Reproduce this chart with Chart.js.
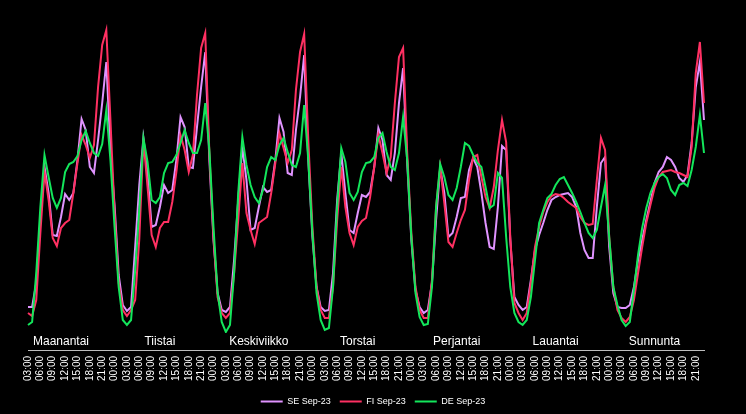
<!DOCTYPE html>
<html>
<head>
<meta charset="utf-8">
<script src="https://cdn.jsdelivr.net/npm/chart.js@4.4.1/dist/chart.umd.min.js"></script>
<style>
  html, body { margin: 0; padding: 0; background: #000; }
  #wrap { width: 746px; height: 414px; position: relative; }
</style>
</head>
<body>
<div id="wrap"><canvas id="chart"></canvas></div>
<script>
const days = ['Maanantai', 'Tiistai', 'Keskiviikko', 'Torstai', 'Perjantai', 'Lauantai', 'Sunnunta'];
const hourLabels = ['00:00', '01:00', '02:00', '03:00', '04:00', '05:00', '06:00', '07:00',
  '08:00', '09:00', '10:00', '11:00', '12:00', '13:00', '14:00', '15:00',
  '16:00', '17:00', '18:00', '19:00', '20:00', '21:00', '22:00', '23:00'];
const firstHour = 3; // the week starts Monday 03:00

// hourly profile, Monday 03:00 .. Sunday 23:00
const seSep23 = [
  33, 33, 57, 120, 173, 147, 105, 104, 123, 146, 140, 147, 180, 221, 210, 173, 167, 200, 237, 278, 190,
  135, 65, 35, 29, 33, 93, 155, 202, 167, 113, 115, 133, 155, 147, 150, 180, 223, 213, 173, 172, 213, 253, 288, 180,
  100, 47, 30, 28, 33, 80, 140, 193, 160, 110, 112, 133, 153, 148, 150, 180, 222, 208, 167, 165, 210, 243, 285, 180,
  103, 53, 33, 29, 30, 67, 140, 187, 147, 110, 107, 127, 145, 143, 148, 173, 212, 200, 165, 160, 187, 237, 272, 177,
  100, 50, 33, 27, 30, 57, 120, 172, 147, 103, 107, 123, 142, 143, 170, 182, 173, 147, 117, 93, 91, 133, 194, 190,
  100, 43, 35, 30, 33, 60, 90, 105, 117, 130, 140, 143, 145, 146, 147, 143, 133, 107, 90, 82, 82, 133, 177, 183,
  93, 47, 33, 32, 32, 35, 53, 80, 100, 120, 138, 157, 168, 173, 183, 180, 173, 162, 158, 165, 197, 253, 278, 220
];
const fiSep23 = [
  27, 24, 40, 107, 168, 140, 102, 94, 112, 117, 120, 147, 177, 205, 195, 182, 195, 253, 295, 310, 220,
  127, 57, 30, 24, 30, 40, 101, 200, 153, 105, 93, 112, 118, 118, 138, 168, 205, 190, 168, 185, 245, 292, 307, 187,
  103, 43, 27, 22, 27, 67, 120, 177, 127, 110, 96, 117, 120, 123, 147, 177, 207, 192, 177, 190, 250, 288, 306, 200,
  113, 53, 30, 22, 22, 53, 120, 173, 133, 107, 95, 113, 119, 122, 143, 173, 205, 187, 167, 183, 237, 283, 292, 187,
  107, 53, 30, 22, 22, 60, 133, 173, 137, 98, 93, 107, 120, 130, 160, 183, 185, 163, 143, 132, 153, 190, 220, 198,
  103, 37, 27, 20, 27, 57, 93, 113, 128, 138, 144, 146, 145, 142, 138, 135, 132, 123, 117, 115, 116, 160, 202, 190,
  103, 53, 30, 22, 18, 23, 40, 67, 93, 117, 135, 152, 163, 168, 169, 170, 168, 167, 165, 163, 193, 267, 298, 237
];
const deSep23 = [
  15, 18, 67, 133, 185, 163, 142, 132, 142, 168, 176, 178, 184, 200, 209, 197, 187, 184, 196, 230, 180,
  113, 53, 20, 15, 20, 70, 130, 202, 178, 140, 137, 143, 167, 177, 178, 185, 197, 210, 197, 187, 187, 200, 237, 190,
  113, 47, 18, 8, 15, 67, 147, 203, 175, 155, 143, 137, 150, 173, 183, 180, 195, 202, 188, 175, 173, 187, 235, 180,
  107, 47, 20, 10, 12, 53, 133, 192, 178, 147, 140, 148, 168, 177, 178, 183, 202, 207, 188, 173, 170, 187, 223, 180,
  103, 47, 23, 15, 16, 53, 133, 176, 163, 145, 140, 152, 173, 197, 194, 185, 177, 173, 153, 132, 135, 167, 162, 103,
  53, 27, 18, 15, 20, 43, 80, 117, 130, 142, 146, 155, 161, 163, 155, 147, 138, 128, 117, 107, 102, 110, 133, 155,
  103, 53, 35, 20, 14, 18, 50, 85, 112, 132, 147, 157, 163, 166, 162, 150, 145, 155, 157, 154, 170, 193, 225, 187
];

// one category per hour; remember which day / hour each one is
const catDay = [];
const catHour = [];
const categories = [];
days.forEach((d, di) => {
  hourLabels.forEach((h, hi) => {
    if (di === 0 && hi < firstHour) return;
    catDay.push(di);
    catHour.push(hi);
    categories.push(d + ' ' + h);
  });
});

const FONT = 'Liberation Sans, Arial, Helvetica, sans-serif';
const defaultLabels = Chart.defaults.plugins.legend.labels.generateLabels;

// invisible side axes, they only reserve the margins so the legend stays centred
const spacer = (pos, w) => ({
  position: pos,
  display: true,
  grid: { display: false, drawTicks: false },
  border: { display: false },
  ticks: { display: false },
  afterFit: s => { s.width = w; }
});

new Chart(document.getElementById('chart'), {
  type: 'line',
  data: {
    labels: categories,
    datasets: [
      { label: 'SE Sep-23', data: seSep23, borderColor: '#E093FF', backgroundColor: '#E093FF', order: 3 },
      { label: 'FI Sep-23', data: fiSep23, borderColor: '#FF3062', backgroundColor: '#FF3062', order: 2 },
      { label: 'DE Sep-23', data: deSep23, borderColor: '#13E65B', backgroundColor: '#13E65B', order: 1 }
    ]
  },
  options: {
    responsive: true,
    maintainAspectRatio: false,
    animation: false,
    layout: { padding: { left: 0, right: 0, top: 20, bottom: -2 } },
    elements: {
      point: { radius: 0, hoverRadius: 0 },
      line: { borderWidth: 2, tension: 0 }
    },
    plugins: {
      tooltip: { enabled: false },
      legend: {
        position: 'bottom',
        labels: {
          color: '#fff',
          font: { family: FONT, size: 9 },
          boxWidth: 22,
          boxHeight: 2,
          padding: 9,
          sort: (a, b) => a.datasetIndex - b.datasetIndex,
          generateLabels: c => defaultLabels(c).map(l => ({ ...l, lineWidth: 0 }))
        }
      }
    },
    scales: {
      x: {
        type: 'category',
        position: 'bottom',
        weight: 1,
        offset: false,
        grid: { display: false, drawTicks: false },
        border: { display: true, color: '#bdbdbd', width: 1 },
        ticks: {
          autoSkip: false,
          minRotation: 90,
          maxRotation: 90,
          padding: 6,
          color: '#fff',
          font: { family: FONT, size: 10 },
          callback: (v, i) => (catHour[i] % 3 === 0 ? hourLabels[catHour[i]] : '')
        },
        afterFit: s => { s.height = 38; }
      },
      days: {
        type: 'category',
        position: 'bottom',
        weight: 0,
        offset: false,
        grid: { display: false, drawTicks: false },
        border: { display: false },
        ticks: {
          autoSkip: false,
          minRotation: 0,
          maxRotation: 0,
          padding: 1,
          color: '#fff',
          font: { family: FONT, size: 12 },
          callback: (v, i) => (catHour[i] === 11 ? days[catDay[i]] : '')
        },
        afterFit: s => { s.height = 17; }
      },
      y: { ...spacer('left', 28), min: 7, max: 320 },
      yRight: spacer('right', 42)
    }
  }
});
</script>
</body>
</html>
